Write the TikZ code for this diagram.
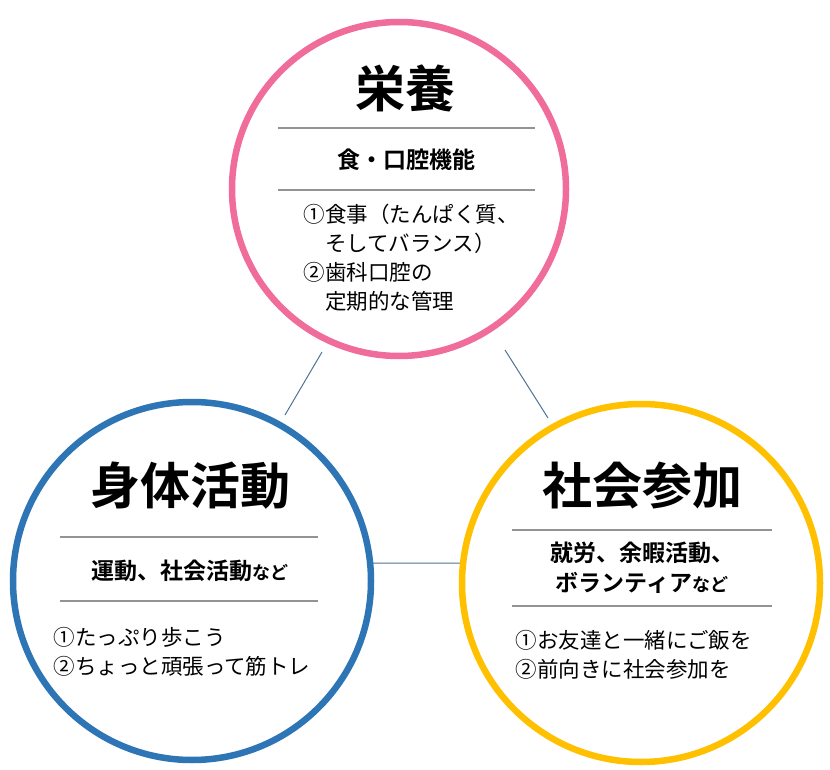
\documentclass[tikz,border=0pt]{standalone}
\usepackage{fontspec}
\newfontfamily\jp{Noto Sans CJK JP}
\newfontfamily\jpb{Noto Sans CJK JP Bold}
\begin{document}
\begin{tikzpicture}[x=1pt,y=-1pt,
  ring/.style={draw,line width=6.5pt,fill=white},
  sep/.style={draw=gray!85,line width=2.5pt},
  ttl/.style={font=\jpb\fontsize{50}{54}\selectfont},
  sub/.style={font=\jpb\fontsize{23}{30}\selectfont,align=center},
  body/.style={font=\jp\fontsize{21.5}{29}\selectfont,align=left,anchor=north west}]
\useasboundingbox (0,0) rectangle (830,770);
\definecolor{cpink}{HTML}{F06C9B}
\definecolor{cblue}{HTML}{2E75B6}
\definecolor{cyel}{HTML}{FFC000}
\definecolor{clink}{HTML}{4F7396}
\coordinate (a1) at (322,352); \coordinate (a2) at (285,415);
\coordinate (b1) at (505,350); \coordinate (b2) at (548,418);
\coordinate (c1) at (372,563); \coordinate (c2) at (460,563);
\draw[draw=clink,line width=1pt] (a1)--(a2) (b1)--(b2) (c1)--(c2);
\node[ring,draw=cpink,circle,minimum size=334pt] (top) at (399,189) {};
\node[ring,draw=cblue,circle,minimum size=358pt] (left) at (192,581) {};
\node[ring,draw=cyel,circle,minimum size=358pt] (right) at (641,583) {};
% top
\node[ttl] (t1) at (405,88) {栄養};
\draw[sep] (278,128) -- (535,128);
\node[sub] (t2) at (406,160) {食・口腔機能};
\draw[sep] (278,190) -- (535,190);
\node[body] (t3) at (300,201) {①食事（たんぱく質、\\\hspace*{1em}そしてバランス）\\②歯科口腔の\\\hspace*{1em}定期的な管理};
% left
\node[ttl] (l1) at (190,486) {身体活動};
\draw[sep] (60,537) -- (318,537);
\node[sub] (l2) at (190,571) {運動、社会活動{\fontsize{18}{20}\selectfont など}};
\draw[sep] (60,601) -- (318,601);
\node[body] (l3) at (50,624) {①たっぷり歩こう\\②ちょっと頑張って筋トレ};
% right
\node[ttl] (r1) at (642,486) {社会参加};
\draw[sep] (512,530) -- (772,530);
\node[sub] (r2) at (642,568) {就労、余暇活動、\\ボランティア{\fontsize{18}{20}\selectfont など}};
\draw[sep] (512,606) -- (772,606);
\node[body] (r3) at (512,627) {①お友達と一緒にご飯を\\②前向きに社会参加を};
\end{tikzpicture}
\end{document}
